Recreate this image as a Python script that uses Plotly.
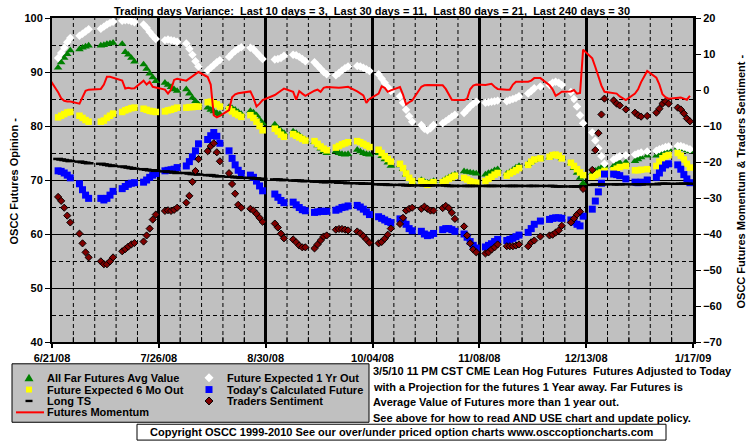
import pandas as pd
import plotly.graph_objects as go

# ---------------- data ----------------
holidays = ["2008-07-04", "2008-09-01", "2008-11-27", "2008-12-25", "2009-01-01"]
dates = [d.strftime("%Y-%m-%d") for d in pd.bdate_range("2008-06-23", "2009-01-16")
         if d.strftime("%Y-%m-%d") not in holidays]

x_tick_format = "%-m/%d/%y"   # gives 6/21/08, 7/26/08, ... 10/04/08, 1/17/09

all_far = [
    90.8, 91.8, 92.6, 93.3, 94.0,
    94.2, 94.5, 94.7, 94.9,
    94.9, 95.0, 95.2, 95.3, 95.4,
    95.2, 93.7, 93.2, 92.6, 91.9,
    91.4, 90.6, 89.7, 89.0, 88.3,
    88.0, 87.6, 87.2, 86.8, 86.5,
    86.8, 86.0, 85.2, 84.6, 84.0,
    83.4, 83.0, 82.7, 82.4, 82.2,
    83.5, 83.3, 83.0, 82.6, 82.2,
    82.8, 82.5, 82.0, 81.2, 80.5,
    80.3, 79.6, 79.1, 78.7,
    79.0, 78.7, 78.3, 77.8, 77.4,
    77.0, 76.4, 75.8, 75.3, 75.0,
    75.3, 75.0, 74.8, 74.7, 74.8,
    75.6, 75.3, 75.0, 74.8, 74.7,
    75.0, 74.4, 73.8, 73.2, 72.6,
    72.7, 72.0, 71.0, 70.2, 69.6,
    70.0, 69.7, 69.5, 69.6, 69.8,
    69.8, 70.2, 70.5, 70.8, 71.0,
    71.6, 71.5, 71.4, 71.3, 71.2,
    71.0, 71.3, 71.5, 71.8, 72.0,
    71.2, 71.5, 71.9, 72.3, 72.6,
    73.0, 73.4, 73.7, 73.9,
    74.2, 74.5, 74.6, 74.4, 74.0,
    73.1, 72.2, 71.3, 70.4, 69.4,
    71.3, 71.7, 72.0, 72.3, 72.5,
    72.6, 73.0, 73.2, 73.3,
    73.5, 73.8, 74.2, 74.5,
    74.5, 75.0, 75.4, 75.6, 75.7,
    76.0, 75.8, 75.7, 75.5, 75.3,
]

six_mo = [
    81.6, 81.9, 82.2, 82.5, 82.6,
    81.9, 81.5, 81.1, 80.8,
    80.8, 81.0, 81.5, 81.9, 82.3,
    82.6, 82.9, 83.1, 83.3, 83.4,
    83.2, 83.0, 82.8, 82.7, 82.6,
    82.7, 82.9, 83.0, 83.2, 83.4,
    83.4, 83.5, 83.5, 83.6, 83.6,
    84.4, 84.5, 84.2, 84.0, 83.6,
    83.1, 82.7, 82.3, 82.0, 81.7,
    82.0, 81.5, 80.8, 80.0, 79.2,
    79.5, 79.0, 78.4, 78.0,
    78.5, 78.2, 77.9, 77.6, 77.3,
    77.2, 76.7, 76.2, 75.8, 75.5,
    76.0, 76.3, 76.6, 76.8, 77.0,
    77.2, 77.0, 76.7, 76.4, 76.1,
    75.6, 75.0, 74.4, 73.9, 73.4,
    73.0, 72.2, 71.2, 70.4, 69.8,
    69.8, 69.4, 69.1, 69.3, 69.6,
    69.6, 69.9, 70.2, 70.5, 70.8,
    70.4, 70.1, 69.8, 69.6, 69.5,
    69.8, 70.2, 70.6, 71.0, 71.3,
    70.8, 71.2, 71.5, 71.8, 72.2,
    72.8, 73.4, 73.8, 74.0,
    74.3, 74.6, 74.7, 74.5, 74.0,
    73.2, 72.6, 72.0, 71.4, 70.9,
    70.6, 70.9, 71.2, 71.4, 71.7,
    71.8, 72.1, 72.4, 72.6,
    71.8, 71.8, 71.9, 72.0,
    72.6, 73.4, 74.0, 74.4, 74.6,
    75.0, 74.5, 73.8, 73.0, 72.3,
]

one_yr = [
    92.6, 93.5, 94.5, 95.5, 96.3,
    96.7, 97.1, 97.5, 97.9,
    98.0, 98.4, 98.8, 99.1, 99.3,
    99.5, 99.6, 99.6, 99.4, 99.2,
    98.8, 98.2, 97.4, 96.7, 96.1,
    95.9, 96.0, 95.9, 95.8, 95.6,
    95.3, 94.3, 93.2, 92.0, 91.0,
    90.3, 90.8, 91.3, 91.8, 92.2,
    92.8, 93.4, 93.9, 94.3, 94.6,
    94.5, 94.2, 93.6, 93.0, 92.4,
    92.3, 92.4, 92.6, 93.0,
    93.2, 93.1, 92.8, 92.4, 92.0,
    91.8, 91.2, 90.6, 90.0, 89.6,
    89.4, 89.8, 90.3, 90.7, 91.0,
    91.1, 91.0, 90.8, 90.5, 90.2,
    89.6, 88.8, 88.0, 87.2, 86.5,
    85.5, 84.3, 83.0, 81.8, 80.8,
    80.2, 79.5, 79.2, 79.6, 80.2,
    80.5, 80.9, 81.3, 81.7, 82.1,
    82.4, 83.0, 83.6, 84.1, 84.5,
    84.3, 84.4, 84.5, 84.6, 84.7,
    84.6, 84.8, 85.0, 85.2, 85.5,
    86.0, 86.5, 87.0, 87.3,
    87.6, 88.0, 88.2, 88.0, 87.6,
    86.3, 85.0, 83.6, 82.0, 80.5,
    78.8, 77.3, 75.9, 74.4, 73.0,
    73.8, 74.1, 74.4, 74.6,
    74.7, 74.9, 75.1, 75.3,
    75.4, 75.7, 75.9, 76.1, 76.2,
    76.3, 76.3, 76.1, 75.9, 75.7,
]

today_calc = [
    71.7, 71.6, 71.3, 70.9, 70.4,
    69.3, 68.2, 67.2, 66.6,
    66.6, 66.3, 66.6, 67.2, 67.9,
    68.4, 68.8, 69.2, 69.4, 69.5,
    69.6, 70.0, 70.5, 70.9, 71.2,
    71.7, 71.8, 71.9, 72.0, 72.3,
    72.6, 73.4, 74.3, 75.4, 76.7,
    77.5, 78.2, 78.8, 78.1, 76.8,
    75.4, 74.0, 72.8, 71.8, 71.2,
    70.9, 70.5, 69.8, 68.9, 68.0,
    67.4, 66.8, 66.2, 65.8,
    65.9, 65.4, 64.9, 64.5, 64.3,
    64.0, 64.1, 64.2, 64.2, 64.2,
    64.4, 64.6, 64.9, 65.0, 65.2,
    65.3, 65.0, 64.6, 64.1, 63.6,
    63.2, 62.9, 62.6, 62.3, 62.1,
    62.8, 62.5, 61.8, 61.0, 60.6,
    60.5, 60.0, 59.7, 59.8, 60.1,
    60.8, 61.0, 61.0, 60.8, 60.5,
    60.0, 59.4, 58.6, 57.9, 57.4,
    57.6, 57.9, 58.2, 58.6, 59.0,
    58.8, 59.0, 59.2, 59.5, 59.8,
    60.3, 61.0, 61.8, 62.4,
    62.7, 62.9, 63.0, 63.0, 62.9,
    62.6, 62.2, 61.8, 61.5, 63.3,
    64.6, 66.1, 67.8, 69.4, 71.1,
    71.1, 71.0, 70.8, 70.2,
    69.6, 69.5, 69.6, 70.0,
    70.5, 71.3, 72.2, 72.8, 73.0,
    72.8, 72.0, 71.0, 70.2, 69.5,
]

long_ts = [
    73.9, 73.8, 73.7, 73.6, 73.5,
    73.4, 73.3, 73.2, 73.1,
    73.0, 72.9, 72.8, 72.7, 72.6,
    72.5, 72.4, 72.3, 72.2, 72.1,
    72.0, 71.9, 71.8, 71.8, 71.7,
    71.6, 71.5, 71.5, 71.4, 71.3,
    71.3, 71.2, 71.1, 71.1, 71.0,
    70.9, 70.9, 70.8, 70.7, 70.7,
    70.6, 70.6, 70.5, 70.5, 70.4,
    70.4, 70.3, 70.3, 70.2, 70.2,
    70.1, 70.1, 70.0, 70.0,
    69.9, 69.9, 69.9, 69.8, 69.8,
    69.7, 69.7, 69.7, 69.6, 69.6,
    69.6, 69.5, 69.5, 69.5, 69.4,
    69.4, 69.4, 69.3, 69.3, 69.3,
    69.2, 69.2, 69.2, 69.1, 69.1,
    69.1, 69.1, 69.0, 69.0, 69.0,
    69.0, 69.0, 69.0, 69.0, 69.0,
    69.0, 69.0, 68.9, 68.9, 68.9,
    68.9, 68.9, 68.9, 68.9, 68.9,
    68.9, 68.9, 68.9, 68.9, 68.9,
    68.9, 68.9, 68.9, 68.9, 68.9,
    68.9, 68.9, 68.9, 68.9,
    68.9, 68.9, 68.8, 68.8, 68.8,
    68.8, 68.8, 68.8, 68.8, 68.8,
    69.1, 69.2, 69.2, 69.2, 69.2,
    69.2, 69.2, 69.2, 69.2,
    69.2, 69.2, 69.2, 69.2,
    69.2, 69.3, 69.3, 69.3, 69.3,
    69.3, 69.3, 69.3, 69.3, 69.3,
]

traders_sentiment = [
    -29.7, -30.8, -32.7, -34.9, -36.8,
    -39.9, -42.6, -45.1, -46.5,
    -47.6, -48.4, -48.4, -47.6, -46.5,
    -44.8, -44.2, -43.5, -42.9, -42.5,
    -42.1, -40.4, -38.5, -36.0, -34.6,
    -33.6, -33.4, -33.6, -33.3, -32.7,
    -31.3, -29.4, -25.5, -22.5, -19.2,
    -17.0, -15.6, -14.8, -17.3, -19.8,
    -23.1, -26.1, -28.8, -31.9, -32.7,
    -33.0, -33.5, -34.4, -35.5, -36.6,
    -37.1, -38.2, -39.9, -41.2,
    -41.5, -42.3, -43.2, -43.7, -43.7,
    -44.0, -42.9, -41.8, -40.7, -40.4,
    -38.8, -38.6, -38.6, -38.8, -39.0,
    -39.3, -39.8, -40.6, -41.5, -42.4,
    -42.6, -42.2, -41.3, -40.2, -38.5,
    -37.2, -35.5, -33.5, -33.0, -32.7,
    -33.0, -32.4, -33.0, -33.5, -33.5,
    -32.8, -32.2, -32.8, -34.1, -35.8,
    -37.9, -40.4, -42.6, -44.3, -45.1,
    -45.4, -45.1, -44.3, -43.7, -42.9,
    -43.4, -43.4, -43.4, -43.2, -42.9,
    -43.4, -42.3, -41.8, -40.7,
    -40.4, -40.2, -39.6, -39.0, -37.7,
    -36.8, -35.7, -34.6, -33.8, -27.5,
    -22.2, -16.7, -12.0, -6.8, -2.4,
    -2.9, -3.8, -4.3, -5.4,
    -6.3, -7.0, -7.4, -7.2,
    -6.3, -5.2, -3.8, -3.2, -3.8,
    -4.9, -5.4, -6.5, -7.9, -8.7,
]

momentum_dates = ["2008-06-20"] + dates
momentum = [
    3.3,
    -0.6, -2.3, -3.0, -3.2, -3.2,
    -3.8, -2.0, -0.2, 0.1,
    0.3, 1.5, 3.7, 3.7, 3.4,
    2.6, 0.4, 0.6, 0.4, 0.5,
    2.6, 1.5, 2.3, 0.9, 0.7,
    0.1, -1.0, 0.1, 2.8, 3.1,
    2.6, 3.2, 4.0, 4.6, 5.0,
    3.6, 1.5, -7.0, -7.6, -7.2,
    -5.6, -2.0, -1.2, -0.9, -0.8,
    -0.4, -2.2, -4.6, -3.8, -2.8,
    -1.4, -0.9, -0.2, 0.4,
    -0.5, -2.7, -0.3, -1.0, -1.6,
    -0.2, 0.1, -0.5, 0.6, 0.8,
    0.5, 0.6, 0.7, 0.9, 0.9,
    -0.4, -0.9, -1.5, -3.6, -2.5,
    -1.0, 1.0, 0.6, -0.5, -0.1,
    0.8, -1.3, -4.0, -3.4, -2.9,
    0.9, 1.3, 1.4, 1.4, 1.5,
    1.3, 0.3, -1.3, -2.7, -2.8,
    -2.8, -2.4, 0.2, 1.2, 1.5,
    1.4, 1.5, 1.7, 0.9, 0.3,
    0.1, 0.1, 1.5, 2.3, 2.3,
    2.3, 2.6, 3.3, 3.3,
    1.3, 0.2, -1.6, -1.1, -0.5,
    -0.4, 0.0, -1.0, -0.8, 11.2,
    8.8, 6.4, 3.9, 1.2, -0.5,
    -1.0, -1.0, -1.8, -2.8,
    -1.0, 0.2, 2.2, 5.3,
    3.4, 1.5, -1.2, -2.0, -2.4,
    -2.2, -2.1, -2.4, -2.7, -1.6,
]

title_text = ("Trading days Variance: \u00a0Last 10 days = 3, \u00a0Last 30 days = 11, "
              "\u00a0Last 80 days = 21, \u00a0Last 240 days = 30")
note_lines = [
    "3/5/10 11 PM CST CME Lean Hog Futures \u00a0Futures Adjusted to Today",
    "with a Projection for the futures 1 Year away. Far Futures is",
    "Average Value of Futures more than 1 year out.",
    "See above for how to read AND USE chart and update policy.",
]
copyright_text = "Copyright OSCC 1999-2010 See our over/under priced option charts www.osccoptioncharts.com"

# ---------------- figure ----------------
FONT = "Liberation Sans, Arial, sans-serif"
fig = go.Figure()

fig.add_trace(go.Scatter(x=dates, y=all_far, mode="markers", name="All Far Futures Avg Value",
                         marker=dict(symbol="triangle-up", size=7.5, color="#008000", line=dict(width=0))))
fig.add_trace(go.Scatter(x=dates, y=six_mo, mode="markers", name="Future Expected 6 Mo Out",
                         marker=dict(symbol="square", size=6.5, color="#FFFF00", line=dict(width=0))))
fig.add_trace(go.Scatter(x=dates, y=one_yr, mode="markers", name="Future Expected 1 Yr Out",
                         marker=dict(symbol="diamond", size=6.5, color="#FFFFFF", line=dict(width=0))))
fig.add_trace(go.Scatter(x=dates, y=today_calc, mode="markers", name="Today's Calculated Future",
                         marker=dict(symbol="square", size=7, color="#0000FF", line=dict(width=0))))
fig.add_trace(go.Scatter(x=dates, y=long_ts, mode="markers", name="Long TS",
                         marker=dict(symbol="line-ew", size=7, color="black",
                                     line=dict(width=2.5, color="black"))))
fig.add_trace(go.Scatter(x=dates, y=traders_sentiment, mode="markers", name="Traders Sentiment",
                         yaxis="y2",
                         marker=dict(symbol="diamond", size=5.5, color="#800000",
                                     line=dict(width=1, color="black"))))
fig.add_trace(go.Scatter(x=momentum_dates, y=momentum, mode="lines", name="Futures Momentum",
                         yaxis="y2", line=dict(color="#FF0000", width=2)))

DAY = 86400000
L, R, T, B = 52, 693, 15, 342
W, H = R - L, B - T


def PX(x):
    return (x - L) / W


def PY(y):
    return (B - y) / H


fig.update_layout(
    width=755, height=446,
    margin=dict(l=L, r=755 - R, t=T, b=446 - B),
    paper_bgcolor="white", plot_bgcolor="#C0C0C0",
    font=dict(family=FONT, size=11, color="black", weight="bold"),
    showlegend=False,
    xaxis=dict(
        type="date", range=["2008-06-21", "2009-01-17 00:01"],
        tickmode="linear", tick0="2008-06-21", dtick=35 * DAY, tickformat=x_tick_format,
        showgrid=True, gridcolor="black", gridwidth=3,
        ticks="outside", ticklen=4, tickwidth=2, tickcolor="black",
        showline=True, linecolor="black", linewidth=2, mirror=True,
        zeroline=False, ticklabelstandoff=1,
        tickfont=dict(family=FONT, size=11, weight="bold"),
    ),
    yaxis=dict(
        range=[40, 100], tick0=40, dtick=10,
        showgrid=True, gridcolor="black", gridwidth=1.2,
        ticks="outside", ticklen=5, tickcolor="black",
        showline=True, linecolor="black", linewidth=2, zeroline=False,
        tickfont=dict(family=FONT, size=11, weight="bold"),
        minor=dict(tick0=40, dtick=5, showgrid=True, gridcolor="black", gridwidth=1,
                   griddash="4px,3px"),
    ),
    yaxis2=dict(
        range=[-70, 20], tick0=-70, dtick=10, overlaying="y", side="right",
        showgrid=False, zeroline=False,
        ticks="outside", ticklen=5, tickcolor="black",
        showline=True, linecolor="black", linewidth=3,
        tickfont=dict(family=FONT, size=11, weight="bold"),
    ),
)

ann = []
ann.append(dict(text=title_text, x=PX(372), y=PY(8), xref="paper", yref="paper",
                xanchor="center", yanchor="middle", showarrow=False,
                font=dict(family=FONT, size=11, weight="bold")))
ann.append(dict(text="OSCC Futures Opinion -", x=PX(14), y=PY(180), xref="paper", yref="paper",
                xanchor="center", yanchor="middle", textangle=-90, showarrow=False,
                font=dict(family=FONT, size=11, weight="bold")))
ann.append(dict(text="OSCC Futures Momentum & Traders Sentiment -", x=PX(741), y=PY(180),
                xref="paper", yref="paper", xanchor="center", yanchor="middle",
                textangle=-90, showarrow=False, font=dict(family=FONT, size=11, weight="bold")))
for i, line in enumerate(note_lines):
    ann.append(dict(text=line, x=PX(371), y=PY(371 + 16 * i), xref="paper", yref="paper",
                    xanchor="left", yanchor="middle", showarrow=False,
                    font=dict(family=FONT, size=11, weight="bold")))
ann.append(dict(text=copyright_text, x=PX(401), y=PY(433), xref="paper", yref="paper",
                xanchor="center", yanchor="middle", showarrow=False,
                font=dict(family=FONT, size=11, weight="bold")))

# legend (drawn manually)
legend_rows = [378, 390, 401.5, 413]
legend_items = [
    ("All Far Futures Avg Value", 45, legend_rows[0]),
    ("Future Expected 6 Mo Out", 45, legend_rows[1]),
    ("Long TS", 45, legend_rows[2]),
    ("Futures Momentum", 45, legend_rows[3]),
    ("Future Expected 1 Yr Out", 225, legend_rows[0]),
    ("Today's Calculated Future", 225, legend_rows[1]),
    ("Traders Sentiment", 225, legend_rows[2]),
]
for txt, lx, ly in legend_items:
    ann.append(dict(text=txt, x=PX(lx), y=PY(ly), xref="paper", yref="paper",
                    xanchor="left", yanchor="middle", showarrow=False,
                    font=dict(family=FONT, size=11, weight="bold")))

fig.update_layout(annotations=ann)


def path(points):
    return "M " + " L ".join(f"{PX(a):.5f},{PY(b):.5f}" for a, b in points) + " Z"


shapes = []
# weekly dashed minor gridlines + inside ticks on the date axis
week_lines = [d.strftime("%Y-%m-%d") for i, d in
              enumerate(pd.date_range("2008-06-21", "2009-01-17", freq="7D")) if i % 5 != 0]
for wd in week_lines:
    shapes.append(dict(type="line", xref="x", yref="paper", x0=wd, x1=wd, y0=0, y1=1,
                       line=dict(color="black", width=1, dash="4px,3px"), layer="below"))
    shapes.append(dict(type="line", xref="x", yref="paper", x0=wd, x1=wd, y0=0, y1=5 / H,
                       line=dict(color="black", width=1), layer="below"))

shapes.append(dict(type="rect", xref="paper", yref="paper", x0=PX(12), x1=PX(369),
                   y0=PY(364), y1=PY(423), fillcolor="#C0C0C0", line=dict(color="black", width=1),
                   layer="below"))
shapes.append(dict(type="rect", xref="paper", yref="paper", x0=PX(137), x1=PX(666),
                   y0=PY(425), y1=PY(441), fillcolor="white", line=dict(color="black", width=1),
                   layer="below"))
r0, r1, r2, r3 = legend_rows
shapes.append(dict(type="path", xref="paper", yref="paper",
                   path=path([(29, r0 - 4), (33.5, r0 + 3.5), (24.5, r0 + 3.5)]),
                   fillcolor="#008000", line=dict(width=0)))
shapes.append(dict(type="path", xref="paper", yref="paper",
                   path=path([(26, r1 - 3), (32, r1 - 3), (32, r1 + 3), (26, r1 + 3)]),
                   fillcolor="#FFFF00", line=dict(width=0)))
shapes.append(dict(type="path", xref="paper", yref="paper",
                   path=path([(25.5, r2 - 1.2), (32.5, r2 - 1.2), (32.5, r2 + 1.2), (25.5, r2 + 1.2)]),
                   fillcolor="black", line=dict(width=0)))
shapes.append(dict(type="line", xref="paper", yref="paper", x0=PX(16), x1=PX(44),
                   y0=PY(r3), y1=PY(r3), line=dict(color="#FF0000", width=2)))
shapes.append(dict(type="path", xref="paper", yref="paper",
                   path=path([(209, r0 - 4.5), (213.5, r0), (209, r0 + 4.5), (204.5, r0)]),
                   fillcolor="white", line=dict(width=0)))
shapes.append(dict(type="path", xref="paper", yref="paper",
                   path=path([(205.5, r1 - 3.5), (212.5, r1 - 3.5), (212.5, r1 + 3.5), (205.5, r1 + 3.5)]),
                   fillcolor="#0000FF", line=dict(width=0)))
shapes.append(dict(type="path", xref="paper", yref="paper",
                   path=path([(209, r2 - 4), (213, r2), (209, r2 + 4), (205, r2)]),
                   fillcolor="#800000", line=dict(width=1, color="black")))
fig.update_layout(shapes=shapes)

fig.write_html("out.html")
